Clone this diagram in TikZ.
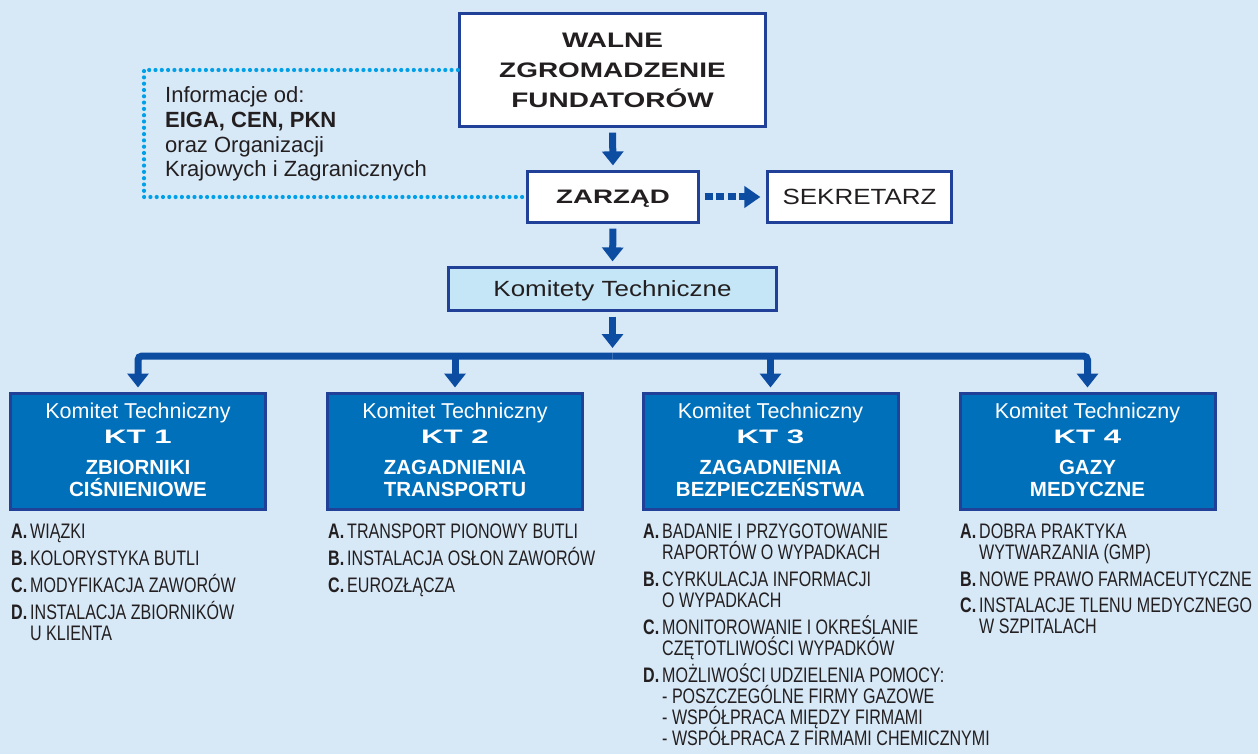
\documentclass[tikz,border=0pt]{standalone}
\usepackage{fontspec}
\setmainfont{Liberation Sans}
\newfontfamily\widefam{Liberation Sans}[FakeStretch=1.33]
\newfontfamily\zarfam{Liberation Sans}[FakeStretch=1.42]
\newfontfamily\ktfam{Liberation Sans}[FakeStretch=1.6]
\newfontfamily\semifam{Liberation Sans}[FakeStretch=1.18]
\newfontfamily\condfam{Liberation Sans}[FakeStretch=0.765]
\usetikzlibrary{arrows.meta}
\definecolor{bgblue}{RGB}{215,232,247}
\definecolor{boxblue}{RGB}{33,64,152}
\definecolor{arrowblue}{RGB}{12,77,162}
\definecolor{ktfill}{RGB}{0,112,186}
\definecolor{kombg}{RGB}{197,230,247}
\definecolor{dotblue}{RGB}{0,160,233}
\definecolor{textdark}{RGB}{35,31,32}
\newcommand\drawlist[3]{%
  \foreach \yy/\lab/\txt [count=\i] in {#3}{%
    \node[listtxt] (#1-\i) at (#2,\yy) {\makebox[19pt][l]{\bfseries\lab}\txt};
  }}
\begin{document}
\begin{tikzpicture}[x=1pt,y=-1pt,
  whitebox/.style={draw=boxblue, fill=white, line width=3.2pt, inner sep=0pt, text=textdark},
  kombox/.style={draw=boxblue, fill=kombg, line width=3.2pt, inner sep=0pt, text=textdark},
  ktbox/.style={draw=boxblue, fill=ktfill, line width=3pt, inner sep=0pt, minimum width=255pt, minimum height=116pt},
  kttxt/.style={anchor=base, inner sep=0pt, text=white},
  listtxt/.style={anchor=base west, inner sep=0pt, text=textdark, font=\condfam\fontsize{21}{21}\selectfont},
  infotxt/.style={anchor=base west, inner sep=0pt, text=textdark, font=\fontsize{22}{24}\selectfont},
  arr/.style={draw=arrowblue, line width=7pt, -{Triangle[length=14pt,width=21pt]}},
  gap/.style={shorten <=4.5pt, shorten >=4.5pt},
  dotline/.style={draw=dotblue, line width=4.2pt, line cap=round, dash pattern=on 0pt off 6.3pt}
]
\useasboundingbox (0,0) rectangle (1258,754);
\fill[bgblue] (0,0) rectangle (1258,754);

% top boxes
\node[whitebox, minimum width=306pt, minimum height=113pt, align=center,
      font=\widefam\bfseries\fontsize{21}{30}\selectfont] (walne) at (612.5,70)
      {WALNE\\ZGROMADZENIE\\FUNDATORÓW};
\node[whitebox, minimum width=171pt, minimum height=51pt, text height=14pt, text depth=0pt,
      font=\zarfam\bfseries\fontsize{19.5}{22}\selectfont] (zarzad) at (613,197) {ZARZĄD};
\node[whitebox, minimum width=184pt, minimum height=51pt, text height=15.8pt, text depth=0pt,
      font=\semifam\fontsize{22}{24}\selectfont] (sekr) at (859.5,197) {SEKRETARZ};
\node[kombox, minimum width=328pt, minimum height=43pt, text height=15.8pt, text depth=0pt,
      font=\semifam\fontsize{22}{24}\selectfont] (komitety) at (612.5,289) {Komitety Techniczne};

% info text
\node[infotxt] (info1) at (165,103) {Informacje od:};
\node[infotxt, font=\bfseries\fontsize{22}{24}\selectfont] (info2) at (165,128) {EIGA, CEN, PKN};
\node[infotxt] (info3) at (165,153) {oraz Organizacji};
\node[infotxt] (info4) at (165,177) {Krajowych i Zagranicznych};

% dotted connector
\coordinate (d1) at (144,70);
\coordinate (d2) at (144,197);
\draw[dotline] (walne.west) -- (d1) -- (d2) -- (zarzad.west);

% arrows
\draw[arr, gap] (walne.south) -- (zarzad.north);
\draw[arr, gap] (zarzad.south) -- (komitety.north);
\draw[arr, shorten <=4.5pt, shorten >=5.5pt, dash pattern=on 8pt off 3.6pt,
      -{Triangle[length=16pt,width=21pt]}] (zarzad.east) -- (sekr.west);

% KT boxes
\foreach \n/\cx/\la/\lb in {1/138/ZBIORNIKI/CIŚNIENIOWE,
                            2/455/ZAGADNIENIA/TRANSPORTU,
                            3/770.5/ZAGADNIENIA/BEZPIECZEŃSTWA,
                            4/1087.5/GAZY/MEDYCZNE}{
  \node[ktbox] (kt\n) at (\cx,451.5) {};
  \node[kttxt, font=\fontsize{21.5}{24}\selectfont] (kt\n-h) at (\cx,418) {Komitet Techniczny};
  \node[kttxt, font=\ktfam\bfseries\fontsize{19.5}{20}\selectfont] (kt\n-n) at (\cx,443.5) {KT \n};
  \node[kttxt, font=\bfseries\fontsize{20.5}{22}\selectfont] (kt\n-a) at (\cx,474.5) {\la};
  \node[kttxt, font=\bfseries\fontsize{20.5}{22}\selectfont] (kt\n-b) at (\cx,496) {\lb};
}

% bus
\coordinate (komtip) at (612.5,348);
\coordinate (bus) at (612.5,356);
\draw[arr, shorten <=4.5pt] (komitety.south) -- (komtip);
\draw[arr, rounded corners=4pt, shorten >=4.5pt] (bus) -| (kt1.north);
\draw[arr, rounded corners=4pt, shorten >=4.5pt] (bus) -| (kt4.north);
\draw[arr, shorten >=4.5pt] (kt2.north |- bus) -- (kt2.north);
\draw[arr, shorten >=4.5pt] (kt3.north |- bus) -- (kt3.north);

% lists
\drawlist{la}{11}{538/A./WIĄZKI, 565/B./KOLORYSTYKA BUTLI, 592/C./MODYFIKACJA ZAWORÓW,
  619/D./INSTALACJA ZBIORNIKÓW, 640/{}/U KLIENTA}
\drawlist{lb}{328}{538/A./TRANSPORT PIONOWY BUTLI, 565/B./INSTALACJA OSŁON ZAWORÓW,
  592/C./EUROZŁĄCZA}
\drawlist{lc}{643}{538/A./BADANIE I PRZYGOTOWANIE, 559/{}/RAPORTÓW O WYPADKACH,
  586/B./CYRKULACJA INFORMACJI, 607/{}/O WYPADKACH,
  634/C./MONITOROWANIE I OKREŚLANIE, 655/{}/CZĘTOTLIWOŚCI WYPADKÓW,
  682/D./MOŻLIWOŚCI UDZIELENIA POMOCY:, 703/{}/- POSZCZEGÓLNE FIRMY GAZOWE,
  724/{}/- WSPÓŁPRACA MIĘDZY FIRMAMI, 745/{}/- WSPÓŁPRACA Z FIRMAMI CHEMICZNYMI}
\drawlist{ld}{960}{538/A./DOBRA PRAKTYKA, 559/{}/WYTWARZANIA (GMP),
  586/B./NOWE PRAWO FARMACEUTYCZNE, 612/C./INSTALACJE TLENU MEDYCZNEGO,
  633/{}/W SZPITALACH}
\end{tikzpicture}
\end{document}
